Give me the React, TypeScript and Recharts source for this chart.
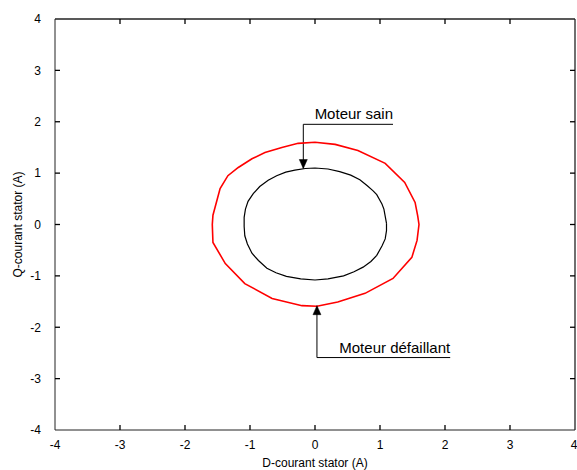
import React from 'react';
import { ComposedChart, Scatter, XAxis, YAxis, ReferenceLine } from 'recharts';

// Axis ticks
const axisTicks = [-4, -3, -2, -1, 0, 1, 2, 3, 4];
const axisMin = -4;
const axisMax = 4;

// Faulty motor (red) trajectory: D and Q currents
const faultyD = [1.6, 1.58, 1.54, 1.38, 1.08, 0.66, 0.31, 0.0, -0.26, -0.51, -0.77, -0.97, -1.18, -1.34, -1.46, -1.57, -1.58, -1.57, -1.38, -1.08, -0.66, -0.2, 0.03, 0.35, 0.77, 1.2, 1.49, 1.57, 1.6];
const faultyQ = [0.0, 0.17, 0.43, 0.82, 1.19, 1.44, 1.56, 1.6, 1.58, 1.5, 1.4, 1.28, 1.11, 0.95, 0.7, 0.18, 0.0, -0.35, -0.76, -1.15, -1.44, -1.58, -1.59, -1.51, -1.34, -1.05, -0.64, -0.31, 0.0];

// Healthy motor (black) trajectory
const healthyD = [1.1, 1.06, 1.03, 0.95, 0.89, 0.8, 0.69, 0.55, 0.38, 0.2, 0.0, -0.15, -0.31, -0.45, -0.59, -0.72, -0.85, -0.95, -1.03, -1.07, -1.09, -1.09, -1.08, -1.04, -0.97, -0.87, -0.74, -0.6, -0.44, -0.22, 0.0, 0.2, 0.44, 0.6, 0.74, 0.86, 0.95, 1.03, 1.08, 1.1, 1.1];
const healthyQ = [0.02, 0.3, 0.4, 0.58, 0.66, 0.76, 0.87, 0.96, 1.03, 1.08, 1.1, 1.09, 1.06, 1.02, 0.95, 0.86, 0.74, 0.6, 0.45, 0.3, 0.14, -0.04, -0.22, -0.38, -0.56, -0.7, -0.85, -0.94, -1.01, -1.06, -1.08, -1.06, -1.0, -0.92, -0.83, -0.72, -0.6, -0.42, -0.28, -0.12, 0.02];

// Annotations
const annotLabels = ['Moteur sain', 'Moteur défaillant'];
const annotLineD = [1.2, 2.08];
const annotLineQ = [1.95, -2.59];
const arrowD = [-0.18, 0.03];
const arrowQ = [1.09, -1.58];
const arrowDir = ['down', 'up'];

const zip = (xs: number[], ys: number[]) => xs.map((x, i) => ({ x, y: ys[i] }));

const faultyData = zip(faultyD, faultyQ);
const healthyData = zip(healthyD, healthyQ);
const labelData = annotLabels.map((label, i) => ({ x: annotLineD[i], y: annotLineQ[i], label }));
const arrowData = arrowD.map((x, i) => ({ x, y: arrowQ[i], dir: arrowDir[i] }));
const innerTicks = axisTicks.slice(1, -1);
const topTickData = innerTicks.map((t) => ({ x: t, y: axisMax }));
const rightTickData = innerTicks.map((t) => ({ x: axisMax, y: t }));
const bottomTickData = innerTicks.map((t) => ({ x: t, y: axisMin }));
const leftTickData = innerTicks.map((t) => ({ x: axisMin, y: t }));

const FONT = '"Liberation Sans", Arial, Helvetica, sans-serif';
const AXIS_COLOR = '#222';
const TICK_LEN = 5;

const NoShape = () => <g />;

const makeTick = (dx: number, dy: number) => (props: any) => {
  const { cx, cy } = props;
  return <line x1={cx} y1={cy} x2={cx + dx * TICK_LEN} y2={cy + dy * TICK_LEN} stroke="#000" strokeWidth={1.3} />;
};
const TopTick = makeTick(0, 1);
const BottomTick = makeTick(0, -1);
const RightTick = makeTick(-1, 0);
const LeftTick = makeTick(1, 0);

const ArrowShape = (props: any) => {
  const { cx, cy, payload } = props;
  const h = 9;
  const w = 4;
  const pts =
    payload.dir === 'down'
      ? `${cx - w},${cy - h} ${cx + w},${cy - h} ${cx},${cy}`
      : `${cx - w},${cy + h} ${cx + w},${cy + h} ${cx},${cy}`;
  return <polygon points={pts} fill="#000" stroke="#000" strokeWidth={0.5} />;
};

const TextShape = (props: any) => {
  const { cx, cy, payload } = props;
  return (
    <text x={cx} y={cy - 5} textAnchor="end" fontSize={15} fontFamily={FONT} fill="#000">
      {payload.label}
    </text>
  );
};

const YLabel = (props: any) => {
  const vb = props.viewBox || { x: 0, y: 19, width: 55, height: 411 };
  const cy = vb.y + vb.height / 2;
  const bx = vb.x + 21.5;
  return (
    <text transform={`translate(${bx}, ${cy}) rotate(-90)`} textAnchor="middle" fontSize={12} fontFamily={FONT} fill="#000">
      Q-courant stator (A)
    </text>
  );
};

export default function App() {
  const tickStyle = { fontSize: 12, fontFamily: FONT, fill: '#000' };
  return (
    <div style={{ position: 'absolute', left: 0, top: 0, width: 577, height: 470, background: '#fff' }}>
      <ComposedChart width={577} height={470} margin={{ top: 19, right: 2, bottom: 0, left: 0 }}>
        <XAxis
          type="number"
          dataKey="x"
          domain={[axisMin, axisMax]}
          ticks={axisTicks}
          height={40}
          tickLine={false}
          tickMargin={4}
          tick={tickStyle}
          stroke={AXIS_COLOR}
          label={{ value: 'D-courant stator (A)', position: 'insideBottom', offset: 3, fontSize: 12, fontFamily: FONT, fill: '#000' }}
        />
        <YAxis
          type="number"
          dataKey="y"
          domain={[axisMin, axisMax]}
          ticks={axisTicks}
          width={55}
          tickLine={false}
          tickMargin={8}
          tick={tickStyle}
          stroke={AXIS_COLOR}
          label={{ content: YLabel }}
        />

        <ReferenceLine y={axisMax} stroke={AXIS_COLOR} strokeWidth={1.3} ifOverflow="visible" />
        <ReferenceLine x={axisMax} stroke={AXIS_COLOR} strokeWidth={1.3} ifOverflow="visible" />
        <Scatter data={topTickData} shape={TopTick} fill={AXIS_COLOR} isAnimationActive={false} />
        <Scatter data={rightTickData} shape={RightTick} fill={AXIS_COLOR} isAnimationActive={false} />
        <Scatter data={bottomTickData} shape={BottomTick} fill={AXIS_COLOR} isAnimationActive={false} />
        <Scatter data={leftTickData} shape={LeftTick} fill={AXIS_COLOR} isAnimationActive={false} />

        <Scatter
          data={faultyData}
          shape={NoShape}
          line={{ stroke: '#ff0000', strokeWidth: 1.6 }}
          lineType="joint"
          fill="#ff0000"
          isAnimationActive={false}
        />
        <Scatter
          data={healthyData}
          shape={NoShape}
          line={{ stroke: '#000', strokeWidth: 1.2 }}
          lineType="joint"
          fill="#000"
          isAnimationActive={false}
        />

        <ReferenceLine segment={[{ x: arrowD[0], y: annotLineQ[0] }, { x: annotLineD[0], y: annotLineQ[0] }]} stroke="#000" strokeWidth={1} />
        <ReferenceLine segment={[{ x: arrowD[0], y: annotLineQ[0] }, { x: arrowD[0], y: arrowQ[0] }]} stroke="#000" strokeWidth={1} />
        <ReferenceLine segment={[{ x: arrowD[1], y: annotLineQ[1] }, { x: annotLineD[1], y: annotLineQ[1] }]} stroke="#000" strokeWidth={1} />
        <ReferenceLine segment={[{ x: arrowD[1], y: annotLineQ[1] }, { x: arrowD[1], y: arrowQ[1] }]} stroke="#000" strokeWidth={1} />

        <Scatter data={arrowData} shape={ArrowShape} fill="#000" isAnimationActive={false} />
        <Scatter data={labelData} shape={TextShape} fill="#000" isAnimationActive={false} />
      </ComposedChart>
    </div>
  );
}
